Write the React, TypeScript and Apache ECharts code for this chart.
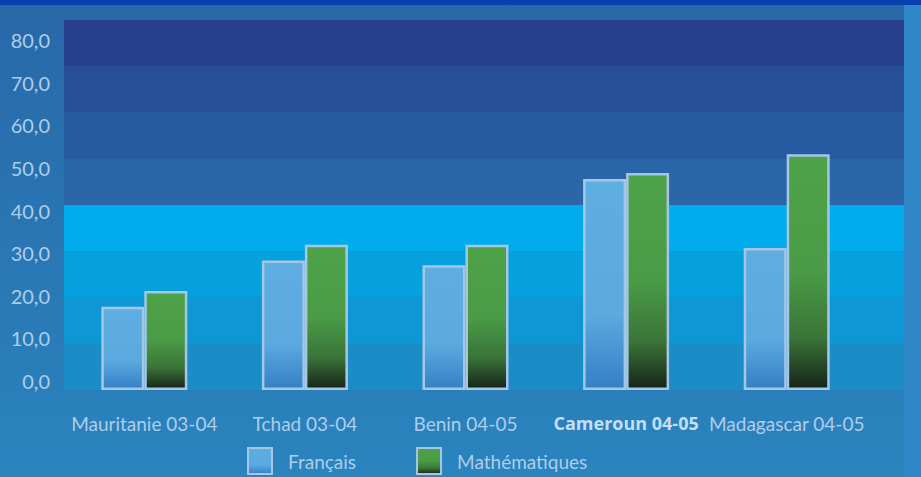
import React, { useEffect, useRef } from "react";
import * as echarts from "echarts";

const categories = ["Mauritanie 03-04", "Tchad 03-04", "Benin 04-05", "Cameroun 04-05", "Madagascar 04-05"];
const seriesNames = ["Français", "Mathématiques"];
const francais = [18.0, 28.0, 27.0, 45.6, 30.7];
const mathematiques = [21.4, 31.4, 31.4, 46.9, 51.0];
const highlighted = "Cameroun 04-05";
const yMin = 0;
const yMax = 80;
const yStep = 10;

export default function App() {
  const ref = useRef<HTMLDivElement>(null);
  useEffect(() => {
    const chart = echarts.init(ref.current!, null, { renderer: "svg" });
    const font = "Lato";
    const labelColor = "#aecdea";
    const bandColors = ["#1a8cc6", "#0d97d5", "#05a1de", "#00aceb", "#2a66a8", "#275aa0", "#264f97", "#283f8e"];
    const frGrad = new echarts.graphic.LinearGradient(0, 0, 0, 1, [
      { offset: 0, color: "#5eaee3" },
      { offset: 0.65, color: "#5aa9df" },
      { offset: 1, color: "#3380c6" },
    ]);
    const maGrad = new echarts.graphic.LinearGradient(0, 0, 0, 1, [
      { offset: 0, color: "#4ea248" },
      { offset: 0.5, color: "#4a9b46" },
      { offset: 0.78, color: "#3a7438" },
      { offset: 1, color: "#16241a" },
    ]);
    chart.setOption({
      animation: false,
      backgroundColor: new echarts.graphic.LinearGradient(0, 0, 0, 1, [
        { offset: 0, color: "#2868a8" },
        { offset: 1, color: "#2a84be" },
      ]),
      graphic: [
        { type: "rect", left: 0, top: 0, shape: { width: 921, height: 5 }, style: { fill: "#0740ae" }, z: -1 },
        { type: "rect", left: 904, top: 5, shape: { width: 17, height: 472 }, style: { fill: "#2f86c6" }, z: -1 },
      ],
      grid: [
        { left: 64, top: 20, width: 840, height: 370 },
        { left: 64, top: 20, width: 803, height: 370 },
        { left: 64, top: 40, width: 10, height: 341 },
      ],
      xAxis: [
        { gridIndex: 0, type: "value", show: false, min: 0, max: 1 },
        {
          gridIndex: 1,
          type: "category",
          data: categories,
          axisLine: { show: false },
          axisTick: { show: false },
          axisLabel: {
            interval: 0,
            margin: 24,
            color: labelColor,
            fontSize: 19,
            fontFamily: font,
            formatter: (v: string) => (v === highlighted ? `{b|${v}}` : v),
            rich: {
              b: { fontWeight: "bold", color: "#c4def3", fontSize: 18, fontFamily: "Open Sans" },
            },
          },
        },
        { gridIndex: 2, type: "value", show: false, min: 0, max: 1 },
      ],
      yAxis: [
        {
          gridIndex: 0,
          type: "value",
          min: yMin,
          max: yMax,
          interval: yStep,
          axisLine: { show: false },
          axisTick: { show: false },
          axisLabel: { show: false },
          splitLine: { show: false },
          splitArea: { show: true, areaStyle: { color: bandColors } },
        },
        { gridIndex: 1, type: "value", min: yMin, max: yMax, interval: yStep, show: false },
        {
          gridIndex: 2,
          type: "value",
          min: yMin,
          max: yMax,
          interval: yStep,
          axisLine: { show: false },
          axisTick: { show: false },
          splitLine: { show: false },
          axisLabel: {
            margin: 14,
            color: labelColor,
            fontSize: 20,
            fontFamily: font,
            formatter: (v: number) => v.toFixed(1).replace(".", ","),
          },
        },
      ],
      legend: {
        left: 247,
        top: 447,
        padding: 0,
        itemWidth: 24,
        itemHeight: 26,
        itemGap: 60,
        icon: "rect",
        data: seriesNames,
        textStyle: { color: labelColor, fontSize: 19, fontFamily: font, padding: [10, 0, 0, 11] },
      },
      series: [
        {
          name: seriesNames[0],
          type: "bar",
          xAxisIndex: 1,
          yAxisIndex: 1,
          data: francais,
          barWidth: 43,
          barGap: "0%",
          itemStyle: { color: frGrad, borderColor: "#a6c6e6", borderWidth: 2.5 },
        },
        {
          name: seriesNames[1],
          type: "bar",
          xAxisIndex: 1,
          yAxisIndex: 1,
          data: mathematiques,
          barWidth: 43,
          barGap: "0%",
          itemStyle: { color: maGrad, borderColor: "#a6c6e6", borderWidth: 2.5 },
        },
      ],
    });
    return () => chart.dispose();
  }, []);
  return <div ref={ref} style={{ position: "absolute", left: 0, top: 0, width: 921, height: 477 }} />;
}
